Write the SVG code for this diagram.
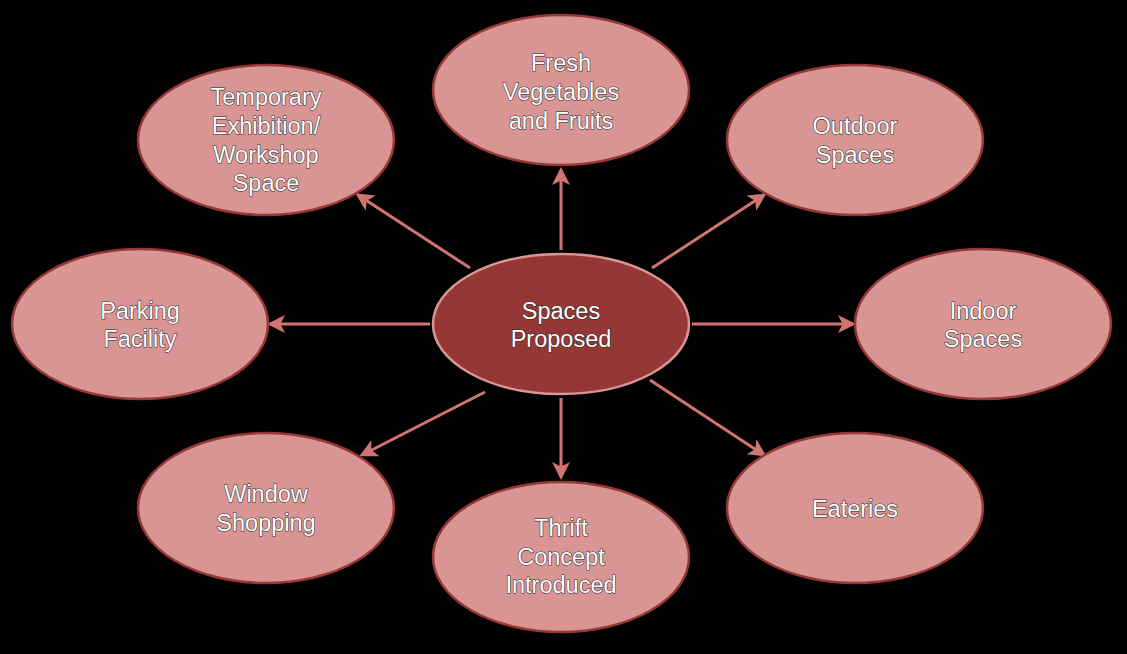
<svg xmlns="http://www.w3.org/2000/svg" width="1127" height="654" viewBox="0 0 1127 654">
<defs>
<style>
.n{fill:#d99594;stroke:#953735;stroke-width:2.5}
.c{fill:#953735;stroke:#d99594;stroke-width:2.5}
.t{font-family:"Liberation Sans",Arial,sans-serif;font-size:23.5px;fill:#ffffff;stroke:#2a2a2a;stroke-width:1.1;paint-order:stroke;text-anchor:middle}
.a{stroke:#d07572;stroke-width:3;fill:none;marker-end:url(#ah)}
</style>
<marker id="ah" viewBox="0 0 12 12" refX="10" refY="6" markerWidth="6" markerHeight="6" orient="auto" markerUnits="strokeWidth">
<path d="M0,0 L12,6 L0,12 L3,6 Z" fill="#d07572"/>
</marker>
</defs>
<rect width="1127" height="654" fill="#000"/>
<g id="connectors">
<line class="a" x1="561" y1="250" x2="561" y2="170"/>
<line class="a" x1="470" y1="268" x2="358" y2="195"/>
<line class="a" x1="652" y1="268" x2="764" y2="195"/>
<line class="a" x1="430" y1="324" x2="270" y2="324"/>
<line class="a" x1="692" y1="324" x2="853" y2="324"/>
<line class="a" x1="485" y1="392" x2="362" y2="455"/>
<line class="a" x1="561" y1="398" x2="561" y2="477"/>
<line class="a" x1="650" y1="380" x2="764" y2="455"/>
</g>
<g id="center">
<ellipse class="c" cx="561" cy="324" rx="128" ry="70"/>
<text class="t" x="561" y="319">Spaces</text>
<text class="t" x="561" y="347">Proposed</text>
</g>
<g id="fresh">
<ellipse class="n" cx="561" cy="90" rx="128" ry="75"/>
<text class="t" x="561" y="71">Fresh</text>
<text class="t" x="561" y="100">Vegetables</text>
<text class="t" x="561" y="129">and Fruits</text>
</g>
<g id="temporary">
<ellipse class="n" cx="266" cy="140" rx="128" ry="75"/>
<text class="t" x="266" y="105">Temporary</text>
<text class="t" x="266" y="134">Exhibition/</text>
<text class="t" x="266" y="163">Workshop</text>
<text class="t" x="266" y="191">Space</text>
</g>
<g id="outdoor">
<ellipse class="n" cx="855" cy="140" rx="128" ry="75"/>
<text class="t" x="855" y="134">Outdoor</text>
<text class="t" x="855" y="163">Spaces</text>
</g>
<g id="parking">
<ellipse class="n" cx="140" cy="324" rx="128" ry="75"/>
<text class="t" x="140" y="319">Parking</text>
<text class="t" x="140" y="347">Facility</text>
</g>
<g id="indoor">
<ellipse class="n" cx="983" cy="324" rx="128" ry="75"/>
<text class="t" x="983" y="319">Indoor</text>
<text class="t" x="983" y="347">Spaces</text>
</g>
<g id="window">
<ellipse class="n" cx="266" cy="508" rx="128" ry="75"/>
<text class="t" x="266" y="502">Window</text>
<text class="t" x="266" y="531">Shopping</text>
</g>
<g id="thrift">
<ellipse class="n" cx="561" cy="557" rx="128" ry="75"/>
<text class="t" x="561" y="536">Thrift</text>
<text class="t" x="561" y="565">Concept</text>
<text class="t" x="561" y="593">Introduced</text>
</g>
<g id="eateries">
<ellipse class="n" cx="855" cy="508" rx="128" ry="75"/>
<text class="t" x="855" y="517">Eateries</text>
</g>
</svg>
